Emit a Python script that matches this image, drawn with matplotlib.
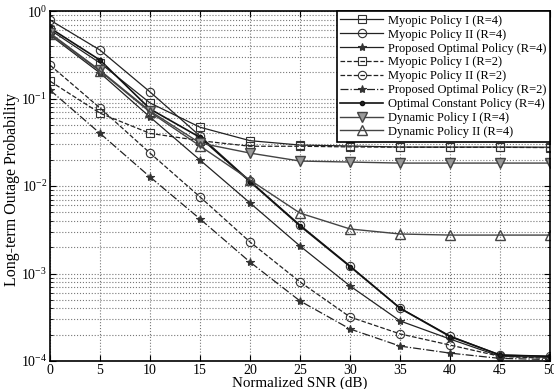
import matplotlib
matplotlib.use('Agg')
import matplotlib.pyplot as plt
from matplotlib.ticker import LogLocator, FixedLocator

plt.rcParams['font.family'] = ['Liberation Serif', 'DejaVu Serif']
plt.rcParams['mathtext.fontset'] = 'custom'
plt.rcParams['mathtext.rm'] = 'Liberation Serif'
plt.rcParams['mathtext.it'] = 'Liberation Serif:italic'

snr = [0, 5, 10, 15, 20, 25, 30, 35, 40, 45, 50]

# values
myopic1_r4 = [0.61, 0.255, 0.089, 0.047, 0.033, 0.0294, 0.0287, 0.0279, 0.0279, 0.0279, 0.0278]
myopic2_r4 = [0.79, 0.358, 0.119, 0.0373, 0.0114, 0.00358, 0.00122, 0.000403, 0.000193, 0.000117, 0.000113]
proposed_r4 = [0.53, 0.196, 0.0614, 0.0198, 0.0064, 0.00206, 0.00072, 0.000287, 0.000178, 0.000113, 0.00011]
myopic1_r2 = [0.158, 0.068, 0.040, 0.033, 0.0285, 0.0285, 0.028, 0.0278, 0.0277, 0.0277, 0.0275]
myopic2_r2 = [0.241, 0.078, 0.0238, 0.0075, 0.00229, 0.0008, 0.000318, 0.000204, 0.000152, 0.000113, 0.000107]
proposed_r2 = [0.125, 0.040, 0.0127, 0.0042, 0.00135, 0.000485, 0.000232, 0.000148, 0.000123, 0.000107, 0.000104]
opt_const_r4 = [0.64, 0.275, 0.076, 0.036, 0.0112, 0.0035, 0.0012, 0.0004, 0.00019, 0.000117, 0.000113]
dyn1_r4 = [0.56, 0.21, 0.072, 0.031, 0.0238, 0.0193, 0.0188, 0.0183, 0.0183, 0.0183, 0.0183]
dyn2_r4 = [0.545, 0.206, 0.07, 0.0287, 0.0117, 0.0049, 0.00323, 0.00283, 0.00275, 0.00275, 0.00275]

fig = plt.figure(figsize=(5.54, 3.89), dpi=100)
ax = fig.add_axes([0.0903, 0.072, 0.9027, 0.8995])

mk = dict(markeredgecolor='#333333', markeredgewidth=0.8, markersize=6, linewidth=0.9, color='#222222')

ax.semilogy(snr, myopic1_r4, '-s', markerfacecolor='none', label='Myopic Policy I (R=4)', **mk)
ax.semilogy(snr, myopic2_r4, '-o', markerfacecolor='none', label='Myopic Policy II (R=4)', **mk)
ax.semilogy(snr, proposed_r4, '-*', markerfacecolor='#333333', label='Proposed Optimal Policy (R=4)', **mk)
ax.semilogy(snr, myopic1_r2, '--s', markerfacecolor='none', label='Myopic Policy I (R=2)', **mk)
ax.semilogy(snr, myopic2_r2, '--o', markerfacecolor='none', label='Myopic Policy II (R=2)', **mk)
ax.semilogy(snr, proposed_r2, '-.*', markerfacecolor='#333333', label='Proposed Optimal Policy (R=2)', **mk)
ax.semilogy(snr, opt_const_r4, '-', marker='.', markerfacecolor='#222222', label='Optimal Constant Policy (R=4)',
            color='#111111', markersize=6, linewidth=1.2)
ax.semilogy(snr, dyn1_r4, '-v', markerfacecolor='#999999', label='Dynamic Policy I (R=4)',
            markeredgecolor='#444444', markersize=7, linewidth=1.0, color='#444444')
ax.semilogy(snr, dyn2_r4, '-^', markerfacecolor='none', label='Dynamic Policy II (R=4)',
            markeredgecolor='#444444', markersize=7, linewidth=1.0, color='#444444')

ax.set_xlim(0, 50)
ax.set_ylim(1e-4, 1)
ax.xaxis.set_major_locator(FixedLocator(snr))
ax.yaxis.set_major_locator(LogLocator(base=10, numticks=10))
ax.yaxis.set_minor_locator(LogLocator(base=10, subs=range(2, 10), numticks=10))
ax.tick_params(direction='in', which='both', labelsize=10, top=True, right=True, pad=2)
ax.tick_params(which='major', length=4)
ax.tick_params(which='minor', length=2)
ax.grid(True, which='major', linestyle=':', color='#777777', linewidth=0.8)
ax.grid(True, which='minor', axis='y', linestyle=':', color='#777777', linewidth=0.8)
for s in ax.spines.values():
    s.set_linewidth(1.2)

ax.set_xlabel('Normalized SNR (dB)', fontsize=10.8)
ax.set_ylabel('Long-term Outage Probability', fontsize=11.5)
ax.xaxis.set_label_coords(0.5, -0.045)
ax.yaxis.set_label_coords(-0.06, 0.49)

leg = ax.legend(loc='upper right', fontsize=9, frameon=True, fancybox=False, edgecolor='black',
                borderaxespad=0.0, labelspacing=0.15, handlelength=3.4, handletextpad=0.4, borderpad=0.3)
leg.get_frame().set_linewidth(1.2)
leg.get_frame().set_alpha(1)

fig.savefig('out.png', dpi=100)
